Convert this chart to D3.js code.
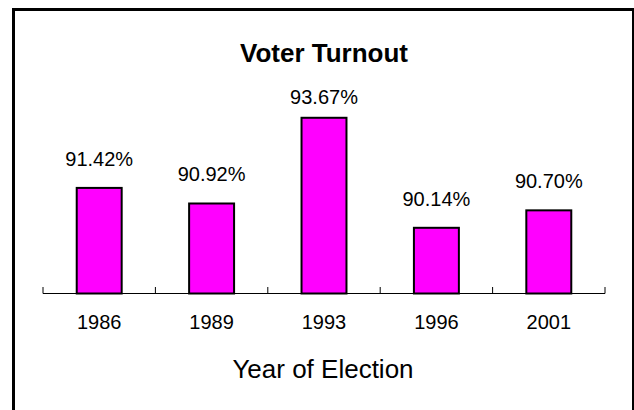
<!DOCTYPE html>
<html>
<head>
<meta charset="utf-8">
<script src="https://cdn.jsdelivr.net/npm/d3@7"></script>
<style>
  html, body { margin: 0; padding: 0; background: #fff; }
  svg { display: block; }
  text { font-family: "Liberation Sans", Arial, sans-serif; fill: #000; }
</style>
</head>
<body>
<svg id="chart" width="634" height="410"></svg>
<script>
const years = ["1986", "1989", "1993", "1996", "2001"];
const turnout = [91.42, 90.92, 93.67, 90.14, 90.70];
const title = "Voter Turnout";
const xTitle = "Year of Election";

const svg = d3.select("#chart");

// outer frame
svg.append("rect")
  .attr("x", 13.5).attr("y", 9.5)
  .attr("width", 620).attr("height", 420)
  .attr("fill", "#fff").attr("stroke", "#000").attr("stroke-width", 3);

const x = d3.scaleBand().domain(years).range([43, 605]).paddingInner(0).paddingOuter(0);
const y = d3.scaleLinear().domain([88, 94]).range([294.5, 107.5]);

const barW = x.bandwidth() / 2.5;

// bars
svg.append("g").selectAll("rect")
  .data(years)
  .join("rect")
  .attr("x", (d) => x(d) + (x.bandwidth() - barW) / 2)
  .attr("y", (d, i) => y(turnout[i]))
  .attr("width", barW)
  .attr("height", (d, i) => y(88) - y(turnout[i]) - 1)
  .attr("fill", "#FF00FF")
  .attr("stroke", "#000")
  .attr("stroke-width", 2);

// x axis
const axis = d3.axisBottom(x).tickSize(0).tickFormat("");
const gx = svg.append("g").attr("transform", "translate(0,293.5)").call(axis);
gx.select(".domain").attr("stroke", "#000").attr("stroke-width", 1).attr("d", "M43,0H605");
const bounds = [...years.map(d => x(d)), 605];
gx.selectAll("line.bt").data(bounds).join("line")
  .attr("class", "bt")
  .attr("x1", d => d).attr("x2", d => d)
  .attr("y1", 0).attr("y2", -6.5)
  .attr("stroke", "#000").attr("stroke-width", 1);

// category labels
svg.append("g").selectAll("text")
  .data(years)
  .join("text")
  .attr("x", d => x(d) + x.bandwidth() / 2)
  .attr("y", 329)
  .attr("text-anchor", "middle")
  .attr("font-size", 20)
  .text(d => d);

// value labels
svg.append("g").selectAll("text")
  .data(years)
  .join("text")
  .attr("x", d => x(d) + x.bandwidth() / 2)
  .attr("y", (d, i) => Math.max(y(turnout[i]) - 22, 104))
  .attr("text-anchor", "middle")
  .attr("font-size", 20)
  .text((d, i) => turnout[i].toFixed(2) + "%");

// title
svg.append("text")
  .attr("x", 324).attr("y", 62)
  .attr("text-anchor", "middle")
  .attr("font-size", 26)
  .attr("font-weight", "bold")
  .text(title);

// x axis title
svg.append("text")
  .attr("x", 323).attr("y", 378)
  .attr("text-anchor", "middle")
  .attr("font-size", 26)
  .text(xTitle);
</script>
</body>
</html>
